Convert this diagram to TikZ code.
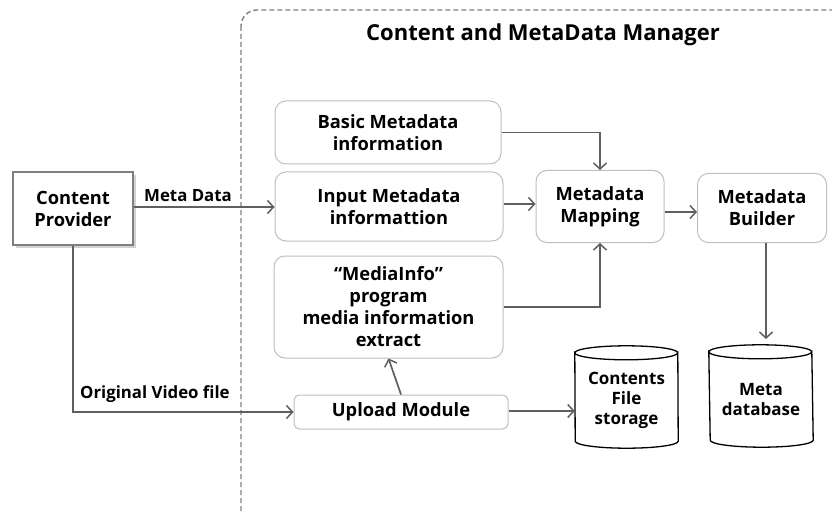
\documentclass[tikz,border=0pt]{standalone}
\usepackage{fontspec}
\setmainfont{Open Sans}
\usetikzlibrary{arrows.meta,shadows}
\definecolor{boxgray}{HTML}{BFBFBF}
\definecolor{linegray}{HTML}{5F5F5F}
\definecolor{framegray}{HTML}{7F7F7F}
\newcommand\boxfont{\bfseries\fontsize{18.3}{22}\selectfont}
\newcommand\dbfont{\bfseries\fontsize{17}{20}\selectfont}
\newcommand\labelfont{\bfseries\fontsize{16.8}{18}\selectfont}
\tikzset{
  box/.style={draw=boxgray, line width=1pt, rounded corners=11pt, fill=white,
    align=center, font=\boxfont, inner sep=0pt},
  provider/.style={draw=framegray, line width=1.2pt, fill=white, align=center,
    font=\boxfont, inner sep=0pt,
    drop shadow={shadow xshift=3pt, shadow yshift=-3pt, fill=black!35}},
  dbtext/.style={align=center, font=\dbfont, inner sep=0pt},
  cyl/.style={draw=black, line width=1.3pt, fill=white},
  conn/.style={draw=linegray, line width=1.7pt,
    -{Straight Barb[length=6pt,width=13pt,line width=1.5pt]}},
  lbl/.style={font=\labelfont, inner sep=0pt},
}
\begin{document}
\begin{tikzpicture}[x=1pt,y=-1pt]
\useasboundingbox (0,0) rectangle (832,513);
\fill[white] (0,0) rectangle (832,513);

% dashed frame of the manager, running off the right and bottom edges
\begin{scope}
  \clip (0,0) rectangle (832,513);
  \draw[framegray, line width=1.4pt, dash pattern=on 5pt off 3pt, rounded corners=16pt]
    (241,10) rectangle (848,530);
\end{scope}
\node[font=\bfseries\fontsize{22}{26}\selectfont, inner sep=0pt] (title) at (543,35)
  {Content and MetaData Manager};

% boxes
\node[provider, minimum width=120pt, minimum height=73pt] (cp) at (73,208.5)
  {Content\\Provider};
\node[box, minimum width=226pt, minimum height=63pt] (basic) at (388,132.5)
  {Basic Metadata\\information};
\node[box, minimum width=228pt, minimum height=69pt] (input) at (389,206.5)
  {Input Metadata\\informattion};
\node[box, minimum width=229pt, minimum height=102pt] (media) at (388.5,307)
  {“MediaInfo”\\program\\media information\\extract};
\node[box, minimum width=128pt, minimum height=72pt] (map) at (600,206.5)
  {Metadata\\Mapping};
\node[box, minimum width=129pt, minimum height=69pt] (builder) at (762,208)
  {Metadata\\Builder};
\node[box, rounded corners=6pt, minimum width=214pt, minimum height=34pt] (upload) at (401,412)
  {Upload Module};

% storage cylinders: invisible frames that carry the anchors, bodies drawn round them
\node[minimum width=103pt, minimum height=102pt, inner sep=0pt] (cfs) at (626.5,397) {};
\node[minimum width=104pt, minimum height=102pt, inner sep=0pt] (mdb) at (761,396) {};
\foreach \n in {cfs,mdb}{
  \draw[cyl]
    ([yshift=-7pt]\n.north west) arc[start angle=180, end angle=360, x radius=51.5pt, y radius=7pt]
    -- ([yshift=7pt]\n.south east) arc[start angle=0, end angle=-180, x radius=51.5pt, y radius=7pt]
    -- cycle;
  \draw[cyl, fill=none] ([yshift=-7pt]\n.north west)
    arc[start angle=180, end angle=0, x radius=51.5pt, y radius=7pt];
}
\node[dbtext] (cfstext) at (626.5,400) {Contents\\File\\storage};
\node[dbtext] (mdbtext) at (761,400) {Meta\\database};

% connectors
\draw[conn] (cp.east |- 0,207) -- (input.west |- 0,207);
\node[lbl, anchor=base west] (mdlabel) at (144,201) {Meta Data};
\draw[conn] (cp.south) |- (upload.west);
\node[lbl, anchor=base west] (ovlabel) at (80,398) {Original Video file};
\draw[conn] (basic.east) -| (map.north);
\draw[conn] (input.east |- 0,204) -- (map.west |- 0,204);
\draw[conn] (media.east) -| (map.south);
\draw[conn] (map.east |- 0,212) -- (builder.west |- 0,212);
\coordinate (mdbtop) at (766,339);
\draw[conn] (builder.south -| mdbtop) -- (mdbtop);
\draw[conn] (upload.north) -- (media.south);
\draw[conn] (upload.east |- 0,411) -- (cfs.west |- 0,411);
\end{tikzpicture}
\end{document}
